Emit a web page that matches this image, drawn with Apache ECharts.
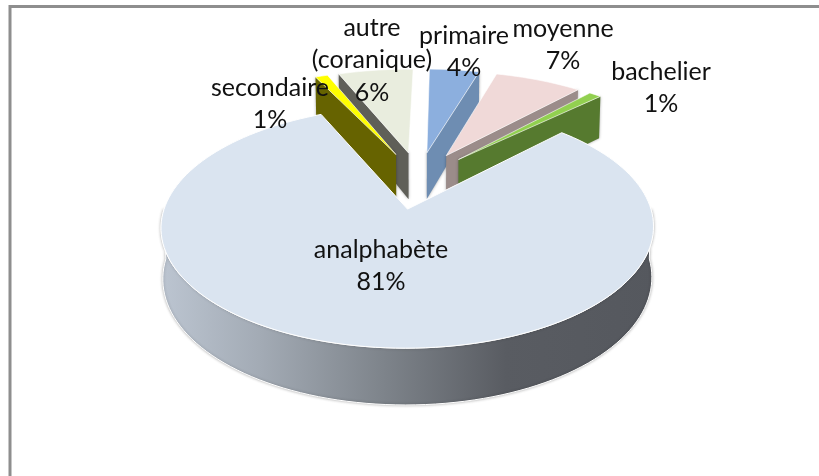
<!DOCTYPE html>
<html><head><meta charset="utf-8">
<style>html,body{margin:0;padding:0;background:#fff}#c{width:819px;height:476px}</style>
<script src="https://cdn.jsdelivr.net/npm/echarts@6/dist/echarts.min.js"></script>
</head><body><div id="c"></div>
<script>
// data
const categories = ['primaire','moyenne','bachelier','analphabète','secondaire','autre\n(coranique)'];
const values = [4,7,1,81,1,6];
const topColors = ['#8CAFDE','#F0D9D8','#92D050','#DAE4F0','#FFFF00','#E9EDDE'];
const wallColors = ['#6E8DB2','#9B8C8A','#567A2F','#6b6f75','#666300','#5F5F58'];
const labelAnchors = [[464,52],[563,45],[661,88],[381,266],[270,104],[372,60]];
const drawOrder = [5,4,0,1,2,3];

const cfg = {cx:418.5,cy:180,A:234.4,B:109.5,p:0.145,explode:0.26,rot:1,lh:32.5,flat:0.93};
const total = values.reduce((a,b)=>a+b,0);
const slices=[]; let acc=0;
values.forEach((v,i)=>{const s=acc/total*360+cfg.rot; acc+=v; slices.push([s,acc/total*360+cfg.rot]);});
const rad=d=>d*Math.PI/180;
const isMain=i=>values[i]===Math.max(...values);
function proj(X,Y,bottom){
  const w=1+cfg.p*Y;
  let sx=cfg.A*X/w, sy=cfg.cy-cfg.B*Y/w;
  if(bottom){sx*=0.993; sy+=48-7*Y;}
  return [cfg.cx+sx,sy];
}
function world(i,deg,r){
  const [s,e]=slices[i]; const m=rad((s+e)/2);
  const ox=cfg.explode*Math.sin(m), oy=cfg.explode*Math.cos(m);
  const f=isMain(i)?1:cfg.flat;
  return [ox+r*Math.sin(rad(deg)), oy+f*r*Math.cos(rad(deg))];
}
function arc(i,a,b,bottom){
  const pts=[],n=Math.max(2,Math.ceil(Math.abs(b-a)/2));
  for(let k=0;k<=n;k++){const d=a+(b-a)*k/n;const [X,Y]=world(i,d,1);pts.push(proj(X,Y,bottom));}
  return pts;
}
function renderItem(params,api){
  const i=api.value(0);
  const [s,e]=slices[i];
  const children=[];
  const apex=world(i,s,0);
  const main=isMain(i);
  if(main){
    const a0=Math.max(s,90), a1=Math.min(e,270);
    const wall=arc(i,a0,a1,false).concat(arc(i,a1,a0,true));
    children.push({type:'polygon',shape:{points:wall},style:{
      stroke:'#fff',lineWidth:1,shadowBlur:3,shadowColor:'rgba(0,0,0,0.3)',
      fill:new echarts.graphic.LinearGradient(1,0,0,0,[
        {offset:0,color:'#55585E'},{offset:0.3,color:'#595C62'},{offset:0.55,color:'#7E848B'},{offset:0.8,color:'#A3ABB5'},{offset:1,color:'#BCC5D1'}])
    }});
  } else {
    const mid=(s+e)/2, leftSide=mid>180;
    const edge=leftSide?s:e;
    const [ox,oy]=world(i,edge,1);
    const t1=proj(apex[0],apex[1],false), t2=proj(ox,oy,false), b2=proj(ox,oy,true), b1=proj(apex[0],apex[1],true);
    children.push({type:'polygon',shape:{points:[t1,t2,b2,b1]},style:{fill:wallColors[i],shadowBlur:3,shadowColor:'rgba(0,0,0,0.35)'}});
  }
  const pts=[proj(apex[0],apex[1],false)].concat(arc(i,s,e,false));
  children.push({type:'polygon',shape:{points:pts},style:{fill:topColors[i],stroke:'#fff',lineWidth:main?1:0.6}});
  return {type:'group',children};
}
function renderLabels(params,api){
  const i=api.value(0);
  const pct=Math.round(values[i]/total*100)+'%';
  const a=labelAnchors[i];
  return {type:'text',style:{x:a[0],y:a[1],text:categories[i]+'\n'+pct,fill:'#111',
    font:'25px Lato',lineHeight:cfg.lh,align:'center',verticalAlign:'middle'},z2:100};
}
const chart=echarts.init(document.getElementById('c'),null,{renderer:'canvas'});
chart.setOption({
  animation:false,
  backgroundColor:'#fff',
  graphic:[{type:'polyline',shape:{points:[[819,6.5],[10,6.5],[10,476]]},style:{fill:'none',stroke:'#8e8e8e',lineWidth:3}}],
  xAxis:{show:false},yAxis:{show:false},
  series:[
    {type:'custom',coordinateSystem:'none',renderItem,data:drawOrder.map(i=>[i]),silent:true,z:2},
    {type:'custom',coordinateSystem:'none',renderItem:renderLabels,data:values.map((v,i)=>[i]),silent:true,z:3}
  ]
});
</script></body></html>
